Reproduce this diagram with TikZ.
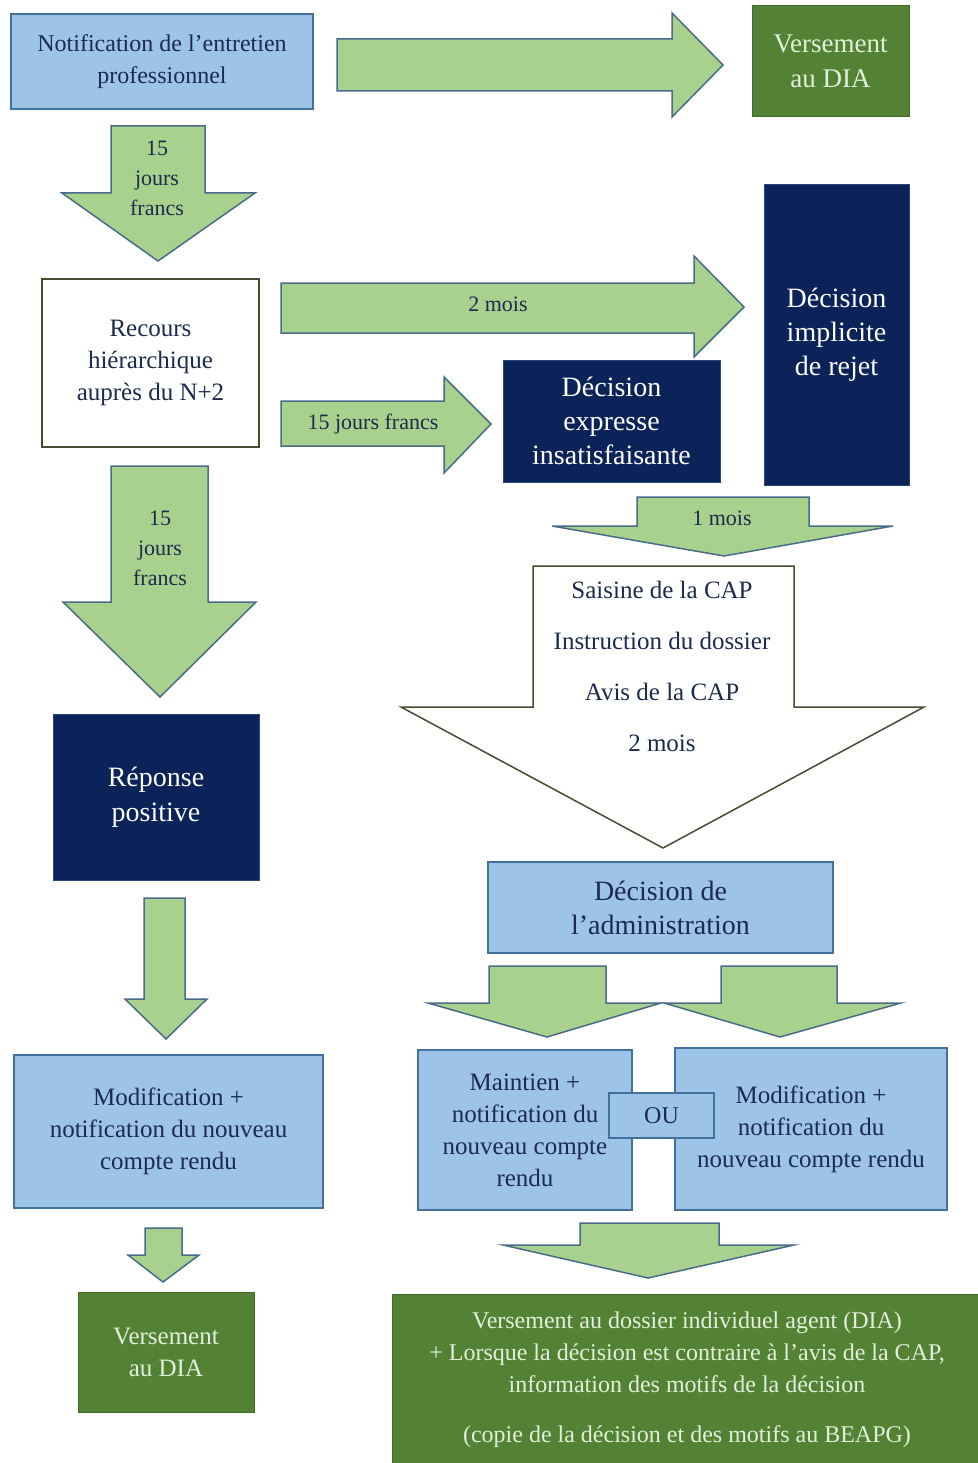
\documentclass[tikz,border=0pt]{standalone}
\usepackage{fontspec}
\setmainfont{Liberation Serif}
\usepackage{tikz}
\definecolor{paleblue}{HTML}{9DC3E6}
\definecolor{edgeblue}{HTML}{41719C}
\definecolor{inkblue}{HTML}{1B2A4E}
\definecolor{darknavy}{HTML}{0C2359}
\definecolor{leafgreen}{HTML}{548235}
\definecolor{palegreen}{HTML}{E2EFDA}
\definecolor{arrowgreen}{HTML}{A9D18E}
\definecolor{arrowedge}{HTML}{4A6B8A}
\definecolor{oliveedge}{HTML}{4A4A30}
\tikzstyle{info}=[rectangle, draw=edgeblue, line width=2pt, fill=paleblue, text=inkblue, align=center]
\tikzstyle{archive}=[rectangle, draw=leafgreen!80!black, line width=1pt, fill=leafgreen, text=palegreen, align=center]
\tikzstyle{decision}=[rectangle, draw=edgeblue!50!darknavy, line width=1pt, fill=darknavy, text=white, align=center]
\tikzstyle{appeal}=[rectangle, draw=oliveedge, line width=2pt, fill=white, text=inkblue, align=center]
\tikzstyle{fat}=[draw=arrowedge, line width=1.5pt, fill=arrowgreen, line join=miter]
\tikzstyle{hollow}=[draw=oliveedge, line width=1.5pt, fill=white, line join=miter]
\tikzstyle{delay}=[text=inkblue, align=center]
\newcommand{\fsz}[2]{\fontsize{#1}{#2}\selectfont}
% shaft left, shaft right, top, head y, head left, head right, tip x, tip y
\newcommand{\fatdown}[8]{\draw[fat] (#1,#3) -- (#2,#3) -- (#2,#4) -- (#6,#4) -- (#7,#8) -- (#5,#4) -- (#1,#4) -- cycle;}
% left x, head x, shaft top, shaft bottom, head top, head bottom, tip x, tip y
\newcommand{\fatright}[8]{\draw[fat] (#1,#3) -- (#2,#3) -- (#2,#5) -- (#7,#8) -- (#2,#6) -- (#2,#4) -- (#1,#4) -- cycle;}

\begin{document}
\begin{tikzpicture}[x=1pt, y=-1pt]
	\fill[white] (0,0) rectangle (977,1463);
	\useasboundingbox (0,0) rectangle (977,1463);

	\node (notif) [info, minimum width=302pt, minimum height=95pt, font=\fsz{24}{32}] at (162,61.5) {Notification de l’entretien\\professionnel};
	\node (verstop) [archive, minimum width=157pt, minimum height=111pt, font=\fsz{27}{35}] at (830.5,61.5) {Versement\\au DIA};
	\node (recours) [appeal, minimum width=217pt, minimum height=168pt, font=\fsz{25}{32}] at (150.5,363) {Recours\\hiérarchique\\auprès du N+2};
	\node (implicite) [decision, minimum width=145pt, minimum height=300pt, font=\fsz{28}{34}] at (836.5,335) {Décision\\implicite\\de rejet};
	\node (expresse) [decision, minimum width=217pt, minimum height=122pt, font=\fsz{28}{34}] at (611.5,421) {Décision\\expresse\\insatisfaisante};
	\node (positive) [decision, minimum width=206pt, minimum height=166pt, font=\fsz{28}{35}] at (156,797) {Réponse\\positive};
	\node (modifleft) [info, minimum width=309pt, minimum height=153pt, font=\fsz{25}{32}] at (168.5,1131.5) {Modification +\\notification du nouveau\\compte rendu};
	\node (versleft) [archive, minimum width=176pt, minimum height=120pt, font=\fsz{25}{32}] at (166,1352) {Versement\\au DIA};
	\node (admin) [info, minimum width=345pt, minimum height=91pt, font=\fsz{28}{34}] at (660.5,907.5) {Décision de\\l’administration};
	\node (maintien) [info, minimum width=214pt, minimum height=160pt, font=\fsz{25}{32}] at (525,1130) {Maintien +\\notification du\\nouveau compte\\rendu};
	\node (modifright) [info, minimum width=272pt, minimum height=162pt, font=\fsz{25}{32}] at (811,1129) {Modification +\\notification du\\nouveau compte rendu};
	\node (dossier) [archive, minimum width=590pt, minimum height=172pt, font=\fsz{24}{32}] at (687,1380) {Versement au dossier individuel agent (DIA)\\+ Lorsque la décision est contraire à l’avis de la CAP,\\information des motifs de la décision\\[18pt](copie de la décision et des motifs au BEAPG)};

	% block arrows
	\fatright{337}{672}{39}{91}{13}{117}{723}{65}
	\fatdown{111}{205}{126}{193}{62}{255}{158}{261}
	\fatright{281}{694}{283}{333}{256}{357}{744}{307}
	\fatright{281}{444}{401}{446}{377}{473}{491}{424}
	\fatdown{111}{208}{466}{602}{63}{256}{160}{697}
	\fatdown{144}{185}{898}{999}{125}{207}{166}{1039}
	\fatdown{145}{182}{1228}{1255}{128}{199}{163}{1282}
	\fatdown{637}{809}{497}{526}{552}{893}{724}{556}
	\draw[hollow] (533,566) -- (794,566) -- (794,707) -- (924,707) -- (663,848) -- (401,707) -- (533,707) -- cycle;
	\fatdown{489}{606}{966}{1003}{428}{661}{547}{1037}
	\fatdown{721}{837}{966}{1003}{664}{901}{780}{1037}
	\fatdown{580}{719}{1223}{1245}{503}{794}{648}{1278}
	\node (ou) [info, minimum width=105pt, minimum height=45pt, font=\fsz{24}{30}] at (661.5,1115.5) {OU};

	% delays
	\node (d15a) [delay, font=\fsz{22}{30}] at (157,178) {15\\jours\\francs};
	\node (d2m) [delay, font=\fsz{22}{28}] at (498,304) {2 mois};
	\node (d15b) [delay, font=\fsz{22}{28}] at (373,424) {15 jours francs};
	\node (d15c) [delay, font=\fsz{22}{30}] at (160,548) {15\\jours\\francs};
	\node (d1m) [delay, font=\fsz{22}{28}] at (722,518) {1 mois};
	\node (cap) [delay, font=\fsz{25}{32}] at (662,666) {Saisine de la CAP\\[19pt]Instruction du dossier\\[19pt]Avis de la CAP\\[19pt]2 mois};
\end{tikzpicture}
\end{document}
